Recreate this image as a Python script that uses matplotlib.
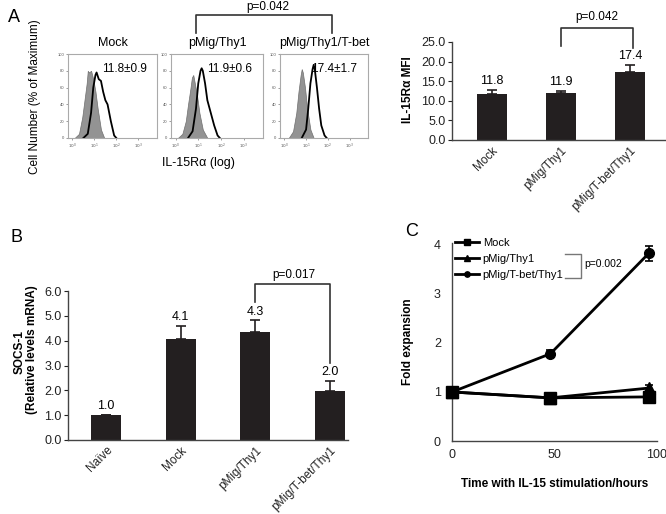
import numpy as np
import matplotlib.pyplot as plt
from matplotlib.lines import Line2D

plt.rcParams['font.family'] = ['Liberation Sans', 'DejaVu Sans']

W, H = 666, 514
BAR = '#231f20'
SPINE = '#444444'

# ---- panel A: flow histograms (log10 intensity, % of max) ----
hist_titles = ['Mock', 'pMig/Thy1', 'pMig/Thy1/T-bet']
hist_mfi = ['11.8±0.9', '11.9±0.6', '17.4±1.7']

mock_iso_x = [0.1, 0.3, 0.45, 0.55, 0.65, 0.7, 0.75, 0.85, 0.95, 1.05, 1.15, 1.3, 1.45]
mock_iso_y = [0, 5, 25, 45, 65, 80, 78, 80, 70, 55, 35, 10, 0]
mock_stain_x = [0.5, 0.7, 0.85, 0.95, 1.05, 1.1, 1.2, 1.3, 1.4, 1.5, 1.6, 1.75, 1.9, 2.0]
mock_stain_y = [0, 5, 30, 60, 75, 78, 70, 68, 55, 45, 40, 20, 3, 0]

thy1_iso_x = [0.1, 0.3, 0.45, 0.55, 0.65, 0.72, 0.78, 0.85, 0.95, 1.05, 1.2, 1.4]
thy1_iso_y = [0, 5, 20, 40, 58, 72, 75, 65, 50, 30, 10, 0]
thy1_stain_x = [0.55, 0.75, 0.9, 1.0, 1.1, 1.15, 1.2, 1.3, 1.4, 1.55, 1.7, 1.85, 1.95]
thy1_stain_y = [0, 8, 35, 65, 80, 83, 80, 65, 45, 30, 15, 3, 0]

tbet_iso_x = [0.2, 0.4, 0.55, 0.65, 0.75, 0.8, 0.85, 0.95, 1.05, 1.2, 1.35]
tbet_iso_y = [0, 8, 30, 55, 75, 82, 78, 60, 35, 10, 0]
tbet_stain_x = [0.8, 1.0, 1.1, 1.2, 1.3, 1.35, 1.4, 1.5, 1.6, 1.7, 1.85, 1.95]
tbet_stain_y = [0, 10, 35, 65, 82, 87, 82, 60, 35, 15, 3, 0]

# ---- panel A: MFI bars ----
a_groups = ['Mock', 'pMig/Thy1', 'pMig/T-bet/Thy1']
a_mfi = [11.8, 11.9, 17.4]
a_err = [0.9, 0.6, 1.7]

# ---- panel B: SOCS-1 ----
b_groups = ['Naïve', 'Mock', 'pMig/Thy1', 'pMig/T-bet/Thy1']
b_socs = [1.0, 4.07, 4.35, 1.98]
b_err = [0.0, 0.52, 0.47, 0.40]
b_text = ['1.0', '4.1', '4.3', '2.0']

# ---- panel C: fold expansion ----
hours = [0, 48, 96]
c_mock = [1.0, 0.88, 0.90]
c_mock_err = [0.03, 0.03, 0.10]
c_thy1 = [1.0, 0.88, 1.08]
c_thy1_err = [0.03, 0.03, 0.06]
c_tbet = [1.0, 1.78, 3.83]
c_tbet_err = [0.03, 0.07, 0.15]

fig = plt.figure(figsize=(W / 100, H / 100), dpi=100)


def px_axes(l, t, r, b):
    return fig.add_axes([l / W, 1 - b / H, (r - l) / W, (b - t) / H])


def fig_text(x, y, s, **kw):
    fig.text(x / W, 1 - y / H, s, **kw)


def fig_line(xs, ys, **kw):
    fig.add_artist(Line2D([x / W for x in xs], [1 - y / H for y in ys],
                          transform=fig.transFigure, **kw))


# histograms
boxes = [(68, 157), (171, 263), (280, 368)]
hists = [(mock_iso_x, mock_iso_y, mock_stain_x, mock_stain_y),
         (thy1_iso_x, thy1_iso_y, thy1_stain_x, thy1_stain_y),
         (tbet_iso_x, tbet_iso_y, tbet_stain_x, tbet_stain_y)]
mfi_pos = [124, 230, 334]
for (l, r), (ix, iy, sx, sy), title, mfi, mx in zip(boxes, hists, hist_titles, hist_mfi, mfi_pos):
    ax = px_axes(l, 54, r, 138)
    ax.set_xscale('log')
    ax.fill_between(10 ** np.array(ix), iy, color='#939393', edgecolor='#707070', lw=0.5)
    ax.plot(10 ** np.array(sx), sy, color='black', lw=1.3)
    ax.set_xlim(10 ** -0.2, 10 ** 3.85)
    ax.set_ylim(0, 100)
    ax.set_xticks([1, 10, 100, 1000])
    ax.set_xticklabels([r'$10^0$', r'$10^1$', r'$10^2$', r'$10^3$'])
    ax.minorticks_off()
    ax.set_yticks([0, 20, 40, 60, 80, 100])
    ax.tick_params(labelsize=3, length=1.5, width=0.4, pad=1, colors='#555555')
    for s in ax.spines.values():
        s.set_color('#aaaaaa')
        s.set_linewidth(0.8)
    fig_text((l + r) / 2, 43, title, ha='center', va='center', fontsize=9)
    fig_text(mx, 69, mfi, ha='center', va='center', fontsize=8.5)

fig_text(8, 18, 'A', ha='left', va='center', fontsize=13)
fig_text(35, 97, 'Cell Number (% of Maximum)', rotation=90, ha='center', va='center', fontsize=8.5)
fig_text(198, 163, 'IL-15R\u03b1 (log)', ha='center', va='center', fontsize=9)
fig_line([196, 196, 332, 332], [33, 15, 15, 33], color='#333333', lw=1.2)
fig_text(268, 7, 'p=0.042', ha='center', va='center', fontsize=8.5)


def style_bar_axes(ax):
    for s in ['top', 'right']:
        ax.spines[s].set_visible(False)
    for s in ['left', 'bottom']:
        ax.spines[s].set_color(SPINE)
        ax.spines[s].set_linewidth(1)
    ax.tick_params(axis='y', labelsize=9, length=3, width=0.8, pad=1.5, colors='#222222')
    ax.tick_params(axis='x', length=0, labelsize=8.5, pad=3, colors='#222222')


# MFI bar chart
ax = px_axes(452, 42, 665, 140)
xa = np.arange(len(a_groups))
ax.bar(xa, a_mfi, width=0.43, color=BAR, zorder=2)
ax.errorbar(xa, a_mfi, yerr=[np.zeros(len(a_err)), a_err], fmt='none', ecolor=BAR,
            elinewidth=1.2, capsize=3.5, capthick=1.2, zorder=1)
for x, v, e in zip(xa, a_mfi, a_err):
    ax.annotate(f'{v:.1f}', (x, v + e), xytext=(0, 2), textcoords='offset points',
                ha='center', va='bottom', fontsize=9)
ax.set_xlim(-0.58, 2.51)
ax.set_ylim(0, 25)
ax.set_yticks([0, 5, 10, 15, 20, 25])
ax.set_yticklabels([f'{t:.1f}' for t in [0, 5, 10, 15, 20, 25]])
ax.set_xticks(xa)
ax.set_xticklabels(a_groups, rotation=45, ha='right', rotation_mode='anchor')
style_bar_axes(ax)
ax.plot([1, 1, 2.05, 2.05], [24.0, 28.6, 28.6, 23.5], color='#333333', lw=1.2, clip_on=False)
ax.text(1.52, 31.4, 'p=0.042', ha='center', va='center', fontsize=8.5)
fig_text(408, 90, 'IL-15R\u03b1 MFI', rotation=90, ha='center', va='center',
         fontsize=8.5, fontweight='bold')

# SOCS-1 bar chart
ax = px_axes(68, 291, 348, 440)
xb = np.arange(len(b_groups))
ax.bar(xb, b_socs, width=0.40, color=BAR, zorder=2)
ax.errorbar(xb, b_socs, yerr=[np.zeros(len(b_err)), b_err], fmt='none', ecolor=BAR,
            elinewidth=1.2, capsize=3.5, capthick=1.2, zorder=1)
for x, v, e, t in zip(xb, b_socs, b_err, b_text):
    ax.annotate(t, (x, v + e), xytext=(0, 2), textcoords='offset points',
                ha='center', va='bottom', fontsize=9)
ax.set_xlim(-0.51, 3.24)
ax.set_ylim(0, 6)
ax.set_yticks(range(7))
ax.set_yticklabels([f'{t:.1f}' for t in range(7)])
ax.set_xticks(xb)
ax.set_xticklabels(b_groups, rotation=45, ha='right', rotation_mode='anchor')
style_bar_axes(ax)
ax.plot([2, 2, 3, 3], [5.56, 6.29, 6.29, 3.1], color='#333333', lw=1.2, clip_on=False)
ax.text(2.52, 6.65, 'p=0.017', ha='center', va='center', fontsize=8.5)
fig_text(20, 352, 'SOCS-1', rotation=90, ha='center', va='center', fontsize=8.5, fontweight='bold')
fig_text(32, 350, '(Relative levels mRNA)', rotation=90, ha='center', va='center',
         fontsize=8.5, fontweight='bold')
fig_text(10, 238, 'B', ha='left', va='center', fontsize=13)

# fold expansion
ax = px_axes(452, 243, 657, 441)
series = [(c_mock, c_mock_err, 's', 8, 'Mock'),
          (c_thy1, c_thy1_err, '^', 8, 'pMig/Thy1'),
          (c_tbet, c_tbet_err, 'o', 7, 'pMig/T-bet/Thy1')]
for vals, errs, mk, ms, lab in series:
    ax.errorbar(hours, vals, yerr=errs, color='black', lw=2, marker=mk, ms=ms,
                elinewidth=1.2, capsize=3, capthick=1.2, clip_on=False, label=lab, zorder=3)
ax.set_xlim(0, 100)
ax.set_ylim(0, 4.04)
ax.set_xticks([0, 50, 100])
ax.set_yticks([0, 1, 2, 3, 4])
for s in ['top', 'right']:
    ax.spines[s].set_visible(False)
for s in ['left', 'bottom']:
    ax.spines[s].set_color(SPINE)
    ax.spines[s].set_linewidth(1)
ax.tick_params(axis='both', labelsize=9, length=0, colors='#222222')
ax.tick_params(axis='y', pad=8)
ax.tick_params(axis='x', pad=6)
ax.set_xlabel('Time with IL-15 stimulation/hours', fontsize=8.5, fontweight='bold', labelpad=12)
ax.set_ylabel('Fold expansion', fontsize=8.5, fontweight='bold', labelpad=14)
handles, labels = ax.get_legend_handles_labels()
handles = [h[0] for h in handles]
ax.legend(handles, labels, loc='upper left', bbox_to_anchor=(455 / W, 1 - 238 / H),
          bbox_transform=fig.transFigure, frameon=False, fontsize=8, markerscale=0.55,
          handlelength=2.2, handletextpad=0.3, labelspacing=0.55, borderpad=0, borderaxespad=0)
fig_line([565, 581, 581, 565], [254, 254, 278, 278], color='#777777', lw=1)
fig_text(584, 264, 'p=0.002', ha='left', va='center', fontsize=7.5)
fig_text(405, 232, 'C', ha='left', va='center', fontsize=13)

fig.savefig('out.png', dpi=100)
